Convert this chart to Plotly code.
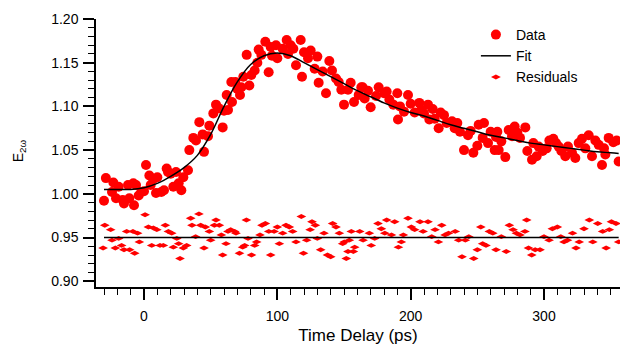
import plotly.graph_objects as go

# ---- Data (time delay in ps, E_2w) ----
data_t = [-30, -28.6, -24, -23, -21, -19, -16, -15, -12, -11, -8, -7.5, -6, -4, -2, 0, 1.5, 4, 5, 7, 9, 10,
          13, 15, 17, 18, 20, 22, 24, 26, 28, 29.5, 33, 34, 37, 39, 41.5, 44, 45, 48, 49, 52, 54, 56, 59,
          60, 62, 63, 65.5, 66, 68.5, 70, 72, 73, 74.5, 77, 79, 80.5, 83, 85, 86, 88, 91, 93.5, 95, 96,
          99, 100, 104, 107, 108, 110, 112, 114, 117.5, 118.5, 120, 123, 125, 128, 130, 131, 134, 136.5,
          139, 141, 144, 146, 148, 150, 153, 155, 157.5, 161, 163, 164, 165.5, 168, 170, 174, 176, 180,
          182, 184, 187, 190, 190.5, 192, 195, 198, 200, 203, 206.5, 208, 210, 213, 214, 216.5, 218, 221,
          222.5, 225, 227, 231, 233, 235, 237, 240, 243, 245, 247, 250, 251, 254, 255, 258, 260, 263,
          264, 265, 266, 268, 271, 273.5, 276, 278, 280, 282, 286, 287.5, 291, 292, 294.5, 296, 299,
          302, 304, 307, 309, 311, 313, 316, 318, 321, 323.5, 326, 328.5, 331, 333.5, 336, 338.5, 341,
          343.5, 345, 346, 348.5, 352, 354.5, 356]
data_v = [0.992, 1.018, 1.002, 1.013, 0.995, 1.008, 0.993, 0.989, 1.010, 0.995, 1.012, 0.987, 1.010, 0.998,
          1.002, 1.003, 1.033, 1.021, 1.010, 1.017, 1.001, 1.019, 1.002, 1.004, 1.029, 1.025, 1.023,
          1.008, 1.025, 1.012, 1.004, 1.019, 1.027, 1.050, 1.064, 1.061, 1.082, 1.068, 1.048, 1.066,
          1.078, 1.092, 1.102, 1.098, 1.076, 1.095, 1.113, 1.096, 1.128, 1.105, 1.128, 1.120, 1.113,
          1.122, 1.134, 1.159, 1.124, 1.136, 1.141, 1.150, 1.165, 1.159, 1.174, 1.139, 1.168, 1.158,
          1.170, 1.155, 1.166, 1.176, 1.160, 1.170, 1.166, 1.147, 1.176, 1.134, 1.162, 1.155, 1.164,
          1.143, 1.157, 1.127, 1.140, 1.115, 1.152, 1.141, 1.132, 1.128, 1.119, 1.102, 1.119, 1.127,
          1.105, 1.113, 1.122, 1.122, 1.109, 1.118, 1.099, 1.112, 1.122, 1.115, 1.117, 1.108, 1.102,
          1.115, 1.085, 1.100, 1.094, 1.113, 1.103, 1.093, 1.104, 1.096, 1.092, 1.102, 1.085, 1.097,
          1.086, 1.075, 1.093, 1.090, 1.081, 1.083, 1.075, 1.081, 1.071, 1.050, 1.067, 1.072, 1.047,
          1.055, 1.079, 1.064, 1.081, 1.058, 1.071, 1.050, 1.065, 1.071, 1.050, 1.060, 1.042, 1.073,
          1.066, 1.077, 1.070, 1.064, 1.076, 1.049, 1.039, 1.058, 1.043, 1.054, 1.049, 1.052, 1.061,
          1.063, 1.058, 1.054, 1.049, 1.043, 1.054, 1.047, 1.041, 1.058, 1.063, 1.052, 1.067, 1.043,
          1.061, 1.056, 1.033, 1.052, 1.045, 1.064, 1.059, 1.061, 1.037]

# ---- Fit curve ----
fit_t = [-30, -20, -10, 0, 10, 20, 30, 40, 50, 60, 70, 80, 90, 100, 110, 120, 130, 140, 150, 160, 170,
         180, 190, 200, 210, 220, 230, 240, 250, 260, 270, 280, 290, 300, 310, 320, 330, 340, 350, 356]
fit_v = [1.005, 1.005, 1.005, 1.007, 1.012, 1.020, 1.030, 1.044, 1.068, 1.100, 1.128, 1.148, 1.158,
         1.161, 1.158, 1.150, 1.142, 1.134, 1.126, 1.118, 1.111, 1.104, 1.098, 1.093, 1.089, 1.084,
         1.079, 1.075, 1.071, 1.067, 1.064, 1.061, 1.058, 1.056, 1.054, 1.052, 1.050, 1.048, 1.047, 1.046]

# ---- Residuals (offset to 0.95) ----
res_offset = 0.95
res_t = [-30.7, -29.4, -25, -24, -21.5, -19, -16.8, -15, -13, -10.8, -8.3, -7, -4.8, -3.5, 0.8, 3.3, 5.8,
         7, 9.6, 12, 14.5, 16, 18.3, 20.8, 22, 24.6, 26, 27, 29.5, 32, 35, 36, 38.7, 41.2, 42.5, 45, 46,
         49, 50, 52.8, 54, 56.5, 58, 59, 61.5, 63, 65, 68, 69, 71.6, 74, 75.5, 76.8, 78, 80.6, 83, 84.5,
         87, 88.5, 91, 93.6, 95, 97.6, 100, 101.5, 104, 106.5, 109, 111.5, 114, 118, 119.6, 122, 124.6,
         126, 128.5, 130, 132.5, 135, 137.6, 140, 141.5, 144, 146.5, 149, 150.2, 151.7, 153, 154,
         155.5, 157, 158, 161.8, 164.3, 169, 170.4, 173, 175.5, 178, 180.6, 182, 185.6, 188, 190.8,
         193, 194.5, 198, 200.5, 203, 207, 209.3, 213, 215.8, 218.3, 220.8, 223.3, 225.8, 228.4,
         233.4, 236, 238.5, 241, 243.6, 247.3, 250, 252.6, 254, 256.5, 259, 261.6, 264, 268, 271.7,
         274, 276.8, 279.3, 282, 285.7, 287, 288.4, 290.8, 293.4, 297, 300, 303.8, 306.3, 310, 312.6,
         315, 317.6, 321.4, 324, 326.4, 330, 334, 336.6, 340.3, 344, 346.6, 349, 350.6, 354, 356]
res_v = [0.938, 0.964, 0.959, 0.947, 0.938, 0.949, 0.941, 0.936, 0.957, 0.936, 0.957, 0.932, 0.955, 0.945,
         0.976, 0.962, 0.941, 0.961, 0.959, 0.941, 0.941, 0.964, 0.957, 0.955, 0.939, 0.949, 0.943,
         0.926, 0.938, 0.941, 0.972, 0.964, 0.951, 0.977, 0.964, 0.938, 0.962, 0.957, 0.947, 0.964,
         0.970, 0.964, 0.953, 0.930, 0.943, 0.957, 0.959, 0.957, 0.955, 0.932, 0.939, 0.941, 0.970,
         0.949, 0.930, 0.941, 0.945, 0.953, 0.964, 0.966, 0.957, 0.930, 0.957, 0.962, 0.943, 0.955,
         0.964, 0.962, 0.957, 0.945, 0.974, 0.932, 0.947, 0.959, 0.968, 0.964, 0.949, 0.936, 0.955,
         0.930, 0.928, 0.966, 0.962, 0.955, 0.943, 0.945, 0.926, 0.934, 0.947, 0.957, 0.934, 0.939,
         0.957, 0.947, 0.955, 0.941, 0.949, 0.966, 0.960, 0.955, 0.970, 0.953, 0.968, 0.939, 0.945,
         0.953, 0.972, 0.962, 0.959, 0.968, 0.957, 0.968, 0.951, 0.959, 0.945, 0.964, 0.953, 0.955,
         0.957, 0.947, 0.928, 0.947, 0.951, 0.926, 0.936, 0.962, 0.943, 0.941, 0.957, 0.955, 0.936,
         0.951, 0.934, 0.964, 0.959, 0.955, 0.953, 0.957, 0.970, 0.938, 0.930, 0.936, 0.936, 0.951,
         0.947, 0.960, 0.962, 0.951, 0.945, 0.947, 0.955, 0.938, 0.945, 0.960, 0.970, 0.945, 0.966,
         0.957, 0.938, 0.959, 0.968, 0.966, 0.945]
res_line_t = [-30, 356]
res_line_v = [res_offset, res_offset]

RED = "#ff0000"
FONT = "Liberation Sans, Arial, sans-serif"

fig = go.Figure()
fig.add_trace(go.Scatter(x=data_t, y=data_v, mode="markers", name="Data", legendrank=1,
                         marker=dict(symbol="circle", size=10, color=RED, line=dict(width=0))))
fig.add_trace(go.Scatter(x=res_t, y=res_v, mode="markers", name="Residuals", legendrank=3,
                         marker=dict(symbol="diamond-wide", size=7, color=RED, line=dict(width=0))))
fig.add_trace(go.Scatter(x=fit_t, y=fit_v, mode="lines", name="Fit", legendrank=2,
                         line=dict(color="black", width=1.5, shape="spline")))
fig.add_trace(go.Scatter(x=res_line_t, y=res_line_v, mode="lines", showlegend=False,
                         line=dict(color="black", width=1.5)))

fig.update_layout(
    width=621, height=345,
    margin=dict(l=96, r=1, t=19, b=58),
    paper_bgcolor="white", plot_bgcolor="white",
    font=dict(family=FONT, size=14, color="black"),
    legend=dict(x=0.725, y=1.0, xanchor="left", yanchor="top", bgcolor="rgba(0,0,0,0)",
                font=dict(size=14), tracegroupgap=0, itemwidth=30),
    showlegend=True,
)
fig.update_xaxes(
    range=[-36, 357], showgrid=False, zeroline=False, showline=True, linecolor="black", linewidth=1.5,
    ticks="outside", ticklen=11, tickwidth=1.5, tickcolor="black", dtick=100, tick0=0,
    minor=dict(dtick=10, tick0=0, ticks="outside", ticklen=6, tickwidth=1, tickcolor="black"),
    title=dict(text="Time Delay (ps)", standoff=10), tickfont=dict(size=14), ticklabelstandoff=4,
)
fig.update_yaxes(
    range=[0.8934, 1.2], showgrid=False, zeroline=False, showline=True, linecolor="black", linewidth=1.5,
    ticks="outside", ticklen=11, tickwidth=1.5, tickcolor="black", dtick=0.05, tick0=0.9,
    tickformat=".2f",
    minor=dict(dtick=0.01, tick0=0.9, ticks="outside", ticklen=6, tickwidth=1, tickcolor="black"),
    tickfont=dict(size=14), ticklabelstandoff=2,
)
fig.add_annotation(text="E<sub>2ω</sub>", xref="paper", yref="paper", x=-0.147, y=0.51,
                   xanchor="center", yanchor="middle", textangle=-90, showarrow=False,
                   font=dict(size=14))

fig.write_html("out.html")
